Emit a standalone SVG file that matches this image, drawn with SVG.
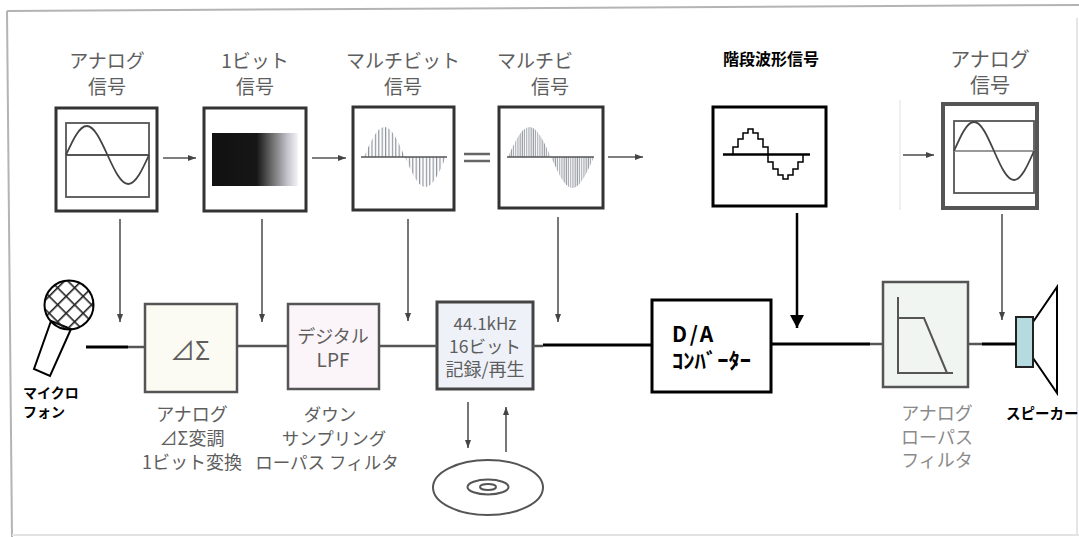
<svg xmlns="http://www.w3.org/2000/svg" width="1079" height="537" viewBox="0 0 1079 537">
  <style>
    .jp { font-family: "Noto Sans CJK JP", "Noto Sans", sans-serif; }
    .gray { fill: #5e5e5e; }
    .light { fill: #8a8a8a; }
    .bold { font-family: "Noto Sans CJK JP", "Noto Sans", sans-serif; font-weight: bold; fill: #000; }
    .sigbox { fill: #fff; stroke: #333; stroke-width: 3; }
    .inner { fill: none; stroke: #555; stroke-width: 1.8; }
    .wave { fill: none; stroke: #444; stroke-width: 1.8; }
    .conn { fill: none; stroke: #555; stroke-width: 1.6; }
    .main { fill: none; stroke: #555; stroke-width: 2.5; }
    .mainb { fill: none; stroke: #000; stroke-width: 3; }
  </style>
  <defs>
    <marker id="ah" markerUnits="userSpaceOnUse" markerWidth="8" markerHeight="6" refX="8" refY="3" orient="auto">
      <path d="M0,0 L8,3 L0,6 z" fill="#444"/>
    </marker>
    <marker id="ahb" markerUnits="userSpaceOnUse" markerWidth="14" markerHeight="14" refX="13" refY="7" orient="auto">
      <path d="M0,0 L13,7 L0,14 z" fill="#000"/>
    </marker>
    <linearGradient id="onebit" gradientUnits="userSpaceOnUse" x1="212" y1="0" x2="298" y2="0">
      <stop offset="0" stop-color="#111"/>
      <stop offset="0.52" stop-color="#161616"/>
      <stop offset="0.7" stop-color="#6e6e6e"/>
      <stop offset="0.88" stop-color="#c4c4cc"/>
      <stop offset="1" stop-color="#f4f4f8"/>
    </linearGradient>
    <pattern id="bars" patternUnits="userSpaceOnUse" width="3.4" height="10">
      <rect x="0.8" y="0" width="1.2" height="10" fill="#8e939c"/>
    </pattern>
    <pattern id="bars2" patternUnits="userSpaceOnUse" width="2.2" height="10">
      <rect x="0.4" y="0" width="1.1" height="10" fill="#9a9ea6"/>
    </pattern>
    <pattern id="mesh" patternUnits="userSpaceOnUse" width="12" height="12" patternTransform="rotate(45 69 305)">
      <rect x="0" y="0" width="1.6" height="12" fill="#222"/>
      <rect x="0" y="0" width="12" height="1.6" fill="#222"/>
    </pattern>
  </defs>

  <!-- page frame -->
  <g id="frame" fill="none" stroke="#b4b4b4" stroke-width="2">
    <path d="M7,11 L1079,5"/>
    <path d="M7,11 L12,537"/>
    <path d="M12,535 L1079,535" stroke="#e2e2e2"/>
    <path d="M1077,18 L1077,535" stroke="#e6e6e6"/>
    <path d="M900,100 L900,210" stroke="#e0e0e0" stroke-width="1"/>
  </g>

  <!-- signal panels, top row -->
  <g id="sig-analog-in">
    <text class="jp gray" x="107" y="68" font-size="19" text-anchor="middle">アナログ</text>
    <text class="jp gray" x="107" y="94" font-size="19" text-anchor="middle">信号</text>
    <rect class="sigbox" x="56" y="108" width="101" height="103"/>
    <rect class="inner" x="66" y="123" width="83" height="74"/>
    <path class="inner" d="M66,155 H149"/>
    <path class="wave" d="M66,155 C72.77,140.14 79.24,126 86.75,126 C94.26,126 100.73,140.14 107.5,155 C114.27,169.86 120.74,184 128.25,184 C135.76,184 142.23,169.86 149,155"/>
  </g>

  <g id="sig-1bit">
    <text class="jp gray" x="255" y="68" font-size="19" text-anchor="middle">1ビット</text>
    <text class="jp gray" x="255" y="94" font-size="19" text-anchor="middle">信号</text>
    <rect class="sigbox" x="204" y="108" width="102" height="103"/>
    <rect x="212" y="133" width="86" height="53" fill="url(#onebit)"/>
  </g>

  <g id="sig-multibit">
    <text class="jp gray" x="403" y="68" font-size="19" text-anchor="middle">マルチビット</text>
    <text class="jp gray" x="403" y="94" font-size="19" text-anchor="middle">信号</text>
    <rect class="sigbox" x="353" y="107" width="101" height="103"/>
    <path d="M364,157 C370.69,141.63 377.08,127 384.5,127 C391.92,127 398.31,141.63 405,157 C411.69,172.37 418.08,187 425.5,187 C432.92,187 439.31,172.37 446,157 Z" fill="url(#bars)"/>
    <path d="M361,157 H447" stroke="#555" stroke-width="1.5"/>
  </g>

  <g id="equals" stroke="#666" stroke-width="2.5">
    <path d="M464,154 H490"/>
    <path d="M464,161 H490"/>
  </g>

  <g id="sig-multibit-2">
    <text class="jp gray" x="497" y="68" font-size="19">マルチビ</text>
    <text class="jp gray" x="550" y="94" font-size="19" text-anchor="middle">信号</text>
    <rect class="sigbox" x="499" y="107" width="104" height="101"/>
    <path d="M508,157 C515.01,141.63 521.72,127 529.5,127 C537.28,127 543.99,141.63 551,157 C558.01,172.37 564.72,188 572.5,188 C580.28,188 586.99,172.37 594,157 Z" fill="url(#bars2)"/>
    <path d="M507,157 H594" stroke="#555" stroke-width="1.5"/>
  </g>

  <g id="sig-staircase">
    <text class="bold" x="723" y="65" font-size="16">階段波形信号</text>
    <rect x="713" y="107" width="113" height="99" fill="#fff" stroke="#000" stroke-width="3"/>
    <path d="M723,154.5 H810" stroke="#000" stroke-width="2.5"/>
    <path d="M733,154 V147 H738 V139 H743 V133 H748 V129 H753 V133 H758 V139 H763 V147 H768 V162 H773 V169 H778 V175 H783 V179 H788 V175 H793 V169 H798 V162 H803 V154" fill="none" stroke="#000" stroke-width="1.5"/>
  </g>

  <g id="sig-analog-out">
    <text class="jp gray" x="990" y="67" font-size="20" text-anchor="middle">アナログ</text>
    <text class="jp gray" x="990" y="93" font-size="20" text-anchor="middle">信号</text>
    <rect x="943" y="104" width="94" height="104" fill="#fff" stroke="#555" stroke-width="4"/>
    <rect class="inner" x="954" y="121" width="80" height="72"/>
    <path d="M954,151 H1034" stroke="#999" stroke-width="2"/>
    <path class="wave" d="M954,151 C960.52,136.14 966.76,122 974,122 C981.24,122 987.48,136.14 994,151 C1000.52,165.86 1006.76,180 1014,180 C1021.24,180 1027.48,165.86 1034,151"/>
  </g>

  <!-- processing chain -->
  <g id="mic">
    <path d="M51,321 L71,329 L50,376 L34,369 Z" fill="#fff" stroke="#000" stroke-width="2"/>
    <circle cx="69" cy="305" r="24.5" fill="url(#mesh)" stroke="#000" stroke-width="2"/>
    <text class="bold" x="23" y="398" font-size="14">マイクロ</text>
    <text class="bold" x="23" y="417" font-size="14">フォン</text>
  </g>

  <g id="delta-sigma">
    <rect x="145" y="304" width="92" height="88" fill="#fbfbf3" stroke="#555" stroke-width="2.5"/>
    <text class="jp gray" x="190" y="360" font-size="25" text-anchor="middle">⊿Σ</text>
    <text class="jp gray" x="192" y="421" font-size="18" text-anchor="middle">アナログ</text>
    <text class="jp gray" x="192" y="445" font-size="18" text-anchor="middle">⊿Σ変調</text>
    <text class="jp gray" x="192" y="469" font-size="18" text-anchor="middle">1ビット変換</text>
  </g>

  <g id="digital-lpf">
    <rect x="288" y="304" width="91" height="85" fill="#fbf4f9" stroke="#555" stroke-width="2.5"/>
    <text class="jp gray" x="333" y="343" font-size="18" text-anchor="middle">デジタル</text>
    <text class="jp gray" x="333" y="367" font-size="19" text-anchor="middle">LPF</text>
    <text class="jp gray" x="330" y="421" font-size="17.5" text-anchor="middle">ダウン</text>
    <text class="jp gray" x="334" y="445" font-size="17.5" text-anchor="middle">サンプリング</text>
    <text class="jp gray" x="327" y="469" font-size="17.5" text-anchor="middle">ローパス フィルタ</text>
  </g>

  <g id="recorder">
    <rect x="437" y="302" width="96" height="87" fill="#eef2f8" stroke="#444" stroke-width="3"/>
    <text class="jp gray" x="485" y="330" font-size="17" text-anchor="middle">44.1kHz</text>
    <text class="jp gray" x="485" y="353" font-size="17.5" text-anchor="middle">16ビット</text>
    <text class="jp gray" x="485" y="376" font-size="18" text-anchor="middle">記録/再生</text>
  </g>

  <g id="disc" fill="none" stroke="#555" stroke-width="2">
    <ellipse cx="488" cy="487.5" rx="55" ry="27.5"/>
    <ellipse cx="488" cy="487" rx="20.5" ry="7.5"/>
    <ellipse cx="488" cy="487" rx="8" ry="3"/>
  </g>

  <g id="dac">
    <rect x="652" y="300" width="119" height="92" fill="#fff" stroke="#000" stroke-width="3"/>
    <text class="bold" x="672" y="342" font-size="21" letter-spacing="3">D/A</text>
    <text class="bold" x="672" y="368" font-size="21" textLength="79" lengthAdjust="spacingAndGlyphs">ｺﾝﾊﾞｰﾀｰ</text>
  </g>

  <g id="analog-lpf">
    <rect x="883" y="282" width="85" height="105" fill="#f1f5f2" stroke="#555" stroke-width="2.5"/>
    <path d="M898,297 V373 H953" fill="none" stroke="#555" stroke-width="2"/>
    <path d="M898,318 H924 L947,373" fill="none" stroke="#555" stroke-width="2"/>
    <text class="jp light" x="937" y="420" font-size="18" text-anchor="middle">アナログ</text>
    <text class="jp light" x="937" y="444" font-size="18" text-anchor="middle">ローパス</text>
    <text class="jp light" x="937" y="467" font-size="18" text-anchor="middle">フィルタ</text>
  </g>

  <g id="speaker">
    <path d="M1033,322 L1057,287 L1057,393 L1033,358" fill="#fff" stroke="#000" stroke-width="2"/>
    <rect x="1016" y="317" width="17" height="50" fill="#b5dadf" stroke="#222" stroke-width="2"/>
    <text class="bold" x="1006" y="419" font-size="14.5">スピーカー</text>
  </g>

  <!-- connectors -->
  <g id="connectors">
    <path class="conn" d="M163,158 H196" marker-end="url(#ah)"/>
    <path class="conn" d="M312,158 H346" marker-end="url(#ah)"/>
    <path class="conn" d="M608,157 H643" marker-end="url(#ah)"/>
    <path class="conn" d="M903,155 H934" marker-end="url(#ah)"/>

    <path class="conn" d="M120,219 V322" marker-end="url(#ah)"/>
    <path class="conn" d="M262,219 V322" marker-end="url(#ah)"/>
    <path class="conn" d="M408,219 V321" marker-end="url(#ah)"/>
    <path class="conn" d="M558,217 V322" marker-end="url(#ah)"/>
    <path d="M797,213 V328" fill="none" stroke="#000" stroke-width="2.5" marker-end="url(#ahb)"/>
    <path class="conn" d="M1002,214 V320" marker-end="url(#ah)"/>

    <path d="M86,347 H128" class="mainb" stroke-width="2.5"/>
    <path d="M128,347 H145" class="main" stroke="#666" stroke-width="3"/>
    <path d="M237,346 H288" class="main"/>
    <path d="M379,346 H437" class="main"/>
    <path d="M533,346 H543" class="main"/>
    <path d="M543,345 H652" class="mainb"/>
    <path d="M771,344 H870" class="mainb"/>
    <path d="M870,344 H883" class="main" stroke="#7a6a6a"/>
    <path d="M968,344 H982" class="main" stroke="#7a6a6a"/>
    <path d="M982,344 H1016" class="mainb" stroke-width="2"/>

    <path class="conn" d="M468,402 V448" marker-end="url(#ah)"/>
    <path class="conn" d="M506,452 V407" marker-end="url(#ah)"/>
  </g>
</svg>
